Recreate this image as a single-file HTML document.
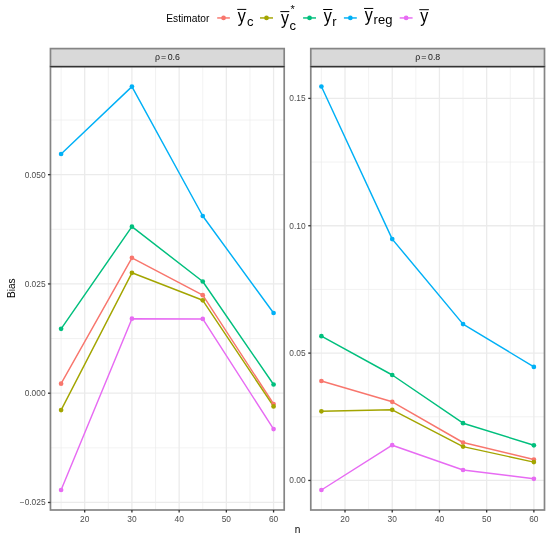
<!DOCTYPE html>
<html><head><meta charset="utf-8"><style>
html,body{margin:0;padding:0;background:#fff;}
svg{display:block;will-change:transform;}
text{font-family:"Liberation Sans",sans-serif;}
.ax{font-size:8.4px;fill:#4D4D4D;}
.st{font-size:8.8px;fill:#1A1A1A;}
.ti{font-size:10.08px;fill:#000;}
.lg{fill:#000;}
</style></head><body>
<svg width="550" height="539" viewBox="0 0 550 539">
<rect x="0" y="0" width="550" height="539" fill="#fff"/>
<rect x="50.47" y="66.5" width="233.73" height="443.50" fill="#fff"/>
<line x1="50.47" x2="284.2" y1="447.83" y2="447.83" stroke="#EBEBEB" stroke-width="0.65"/>
<line x1="50.47" x2="284.2" y1="338.56" y2="338.56" stroke="#EBEBEB" stroke-width="0.65"/>
<line x1="50.47" x2="284.2" y1="229.30" y2="229.30" stroke="#EBEBEB" stroke-width="0.65"/>
<line x1="50.47" x2="284.2" y1="120.02" y2="120.02" stroke="#EBEBEB" stroke-width="0.65"/>
<line x1="61.09" x2="61.09" y1="66.5" y2="510.0" stroke="#EBEBEB" stroke-width="0.65"/>
<line x1="108.31" x2="108.31" y1="66.5" y2="510.0" stroke="#EBEBEB" stroke-width="0.65"/>
<line x1="155.53" x2="155.53" y1="66.5" y2="510.0" stroke="#EBEBEB" stroke-width="0.65"/>
<line x1="202.75" x2="202.75" y1="66.5" y2="510.0" stroke="#EBEBEB" stroke-width="0.65"/>
<line x1="249.97" x2="249.97" y1="66.5" y2="510.0" stroke="#EBEBEB" stroke-width="0.65"/>
<line x1="50.47" x2="284.2" y1="502.47" y2="502.47" stroke="#EBEBEB" stroke-width="1.3"/>
<line x1="50.47" x2="284.2" y1="393.20" y2="393.20" stroke="#EBEBEB" stroke-width="1.3"/>
<line x1="50.47" x2="284.2" y1="283.93" y2="283.93" stroke="#EBEBEB" stroke-width="1.3"/>
<line x1="50.47" x2="284.2" y1="174.66" y2="174.66" stroke="#EBEBEB" stroke-width="1.3"/>
<line x1="84.70" x2="84.70" y1="66.5" y2="510.0" stroke="#EBEBEB" stroke-width="1.3"/>
<line x1="131.92" x2="131.92" y1="66.5" y2="510.0" stroke="#EBEBEB" stroke-width="1.3"/>
<line x1="179.14" x2="179.14" y1="66.5" y2="510.0" stroke="#EBEBEB" stroke-width="1.3"/>
<line x1="226.36" x2="226.36" y1="66.5" y2="510.0" stroke="#EBEBEB" stroke-width="1.3"/>
<line x1="273.58" x2="273.58" y1="66.5" y2="510.0" stroke="#EBEBEB" stroke-width="1.3"/>
<polyline points="61.09,383.70 131.92,257.80 202.75,295.20 273.58,404.00" fill="none" stroke="#F8766D" stroke-width="1.45" stroke-linejoin="round" stroke-linecap="butt"/>
<polyline points="61.09,410.10 131.92,272.80 202.75,300.30 273.58,406.40" fill="none" stroke="#A3A500" stroke-width="1.45" stroke-linejoin="round" stroke-linecap="butt"/>
<polyline points="61.09,328.80 131.92,226.65 202.75,281.50 273.58,384.50" fill="none" stroke="#00BF7D" stroke-width="1.45" stroke-linejoin="round" stroke-linecap="butt"/>
<polyline points="61.09,154.00 131.92,86.60 202.75,216.00 273.58,313.00" fill="none" stroke="#00B0F6" stroke-width="1.45" stroke-linejoin="round" stroke-linecap="butt"/>
<polyline points="61.09,490.00 131.92,318.70 202.75,318.90 273.58,429.10" fill="none" stroke="#E76BF3" stroke-width="1.45" stroke-linejoin="round" stroke-linecap="butt"/>
<circle cx="61.09" cy="383.70" r="2.35" fill="#F8766D"/>
<circle cx="131.92" cy="257.80" r="2.35" fill="#F8766D"/>
<circle cx="202.75" cy="295.20" r="2.35" fill="#F8766D"/>
<circle cx="273.58" cy="404.00" r="2.35" fill="#F8766D"/>
<circle cx="61.09" cy="410.10" r="2.35" fill="#A3A500"/>
<circle cx="131.92" cy="272.80" r="2.35" fill="#A3A500"/>
<circle cx="202.75" cy="300.30" r="2.35" fill="#A3A500"/>
<circle cx="273.58" cy="406.40" r="2.35" fill="#A3A500"/>
<circle cx="61.09" cy="328.80" r="2.35" fill="#00BF7D"/>
<circle cx="131.92" cy="226.65" r="2.35" fill="#00BF7D"/>
<circle cx="202.75" cy="281.50" r="2.35" fill="#00BF7D"/>
<circle cx="273.58" cy="384.50" r="2.35" fill="#00BF7D"/>
<circle cx="61.09" cy="154.00" r="2.35" fill="#00B0F6"/>
<circle cx="131.92" cy="86.60" r="2.35" fill="#00B0F6"/>
<circle cx="202.75" cy="216.00" r="2.35" fill="#00B0F6"/>
<circle cx="273.58" cy="313.00" r="2.35" fill="#00B0F6"/>
<circle cx="61.09" cy="490.00" r="2.35" fill="#E76BF3"/>
<circle cx="131.92" cy="318.70" r="2.35" fill="#E76BF3"/>
<circle cx="202.75" cy="318.90" r="2.35" fill="#E76BF3"/>
<circle cx="273.58" cy="429.10" r="2.35" fill="#E76BF3"/>
<rect x="50.47" y="66.5" width="233.73" height="443.50" fill="none" stroke="#858585" stroke-width="1.7"/>
<line x1="50.17" x2="284.50" y1="66.5" y2="66.5" stroke="#333333" stroke-width="1.3"/>
<line x1="47.95" x2="50.47" y1="502.47" y2="502.47" stroke="#333333" stroke-width="1.3"/>
<text x="45.6" y="505.47" text-anchor="end" class="ax">−0.025</text>
<line x1="47.95" x2="50.47" y1="393.20" y2="393.20" stroke="#333333" stroke-width="1.3"/>
<text x="45.6" y="396.20" text-anchor="end" class="ax">0.000</text>
<line x1="47.95" x2="50.47" y1="283.93" y2="283.93" stroke="#333333" stroke-width="1.3"/>
<text x="45.6" y="286.93" text-anchor="end" class="ax">0.025</text>
<line x1="47.95" x2="50.47" y1="174.66" y2="174.66" stroke="#333333" stroke-width="1.3"/>
<text x="45.6" y="177.66" text-anchor="end" class="ax">0.050</text>
<line x1="84.70" x2="84.70" y1="510.0" y2="512.52" stroke="#333333" stroke-width="1.3"/>
<text x="84.70" y="522.20" text-anchor="middle" class="ax">20</text>
<line x1="131.92" x2="131.92" y1="510.0" y2="512.52" stroke="#333333" stroke-width="1.3"/>
<text x="131.92" y="522.20" text-anchor="middle" class="ax">30</text>
<line x1="179.14" x2="179.14" y1="510.0" y2="512.52" stroke="#333333" stroke-width="1.3"/>
<text x="179.14" y="522.20" text-anchor="middle" class="ax">40</text>
<line x1="226.36" x2="226.36" y1="510.0" y2="512.52" stroke="#333333" stroke-width="1.3"/>
<text x="226.36" y="522.20" text-anchor="middle" class="ax">50</text>
<line x1="273.58" x2="273.58" y1="510.0" y2="512.52" stroke="#333333" stroke-width="1.3"/>
<text x="273.58" y="522.20" text-anchor="middle" class="ax">60</text>
<rect x="310.78" y="66.5" width="233.72" height="443.50" fill="#fff"/>
<line x1="310.78" x2="544.5" y1="416.77" y2="416.77" stroke="#EBEBEB" stroke-width="0.65"/>
<line x1="310.78" x2="544.5" y1="289.43" y2="289.43" stroke="#EBEBEB" stroke-width="0.65"/>
<line x1="310.78" x2="544.5" y1="162.07" y2="162.07" stroke="#EBEBEB" stroke-width="0.65"/>
<line x1="321.40" x2="321.40" y1="66.5" y2="510.0" stroke="#EBEBEB" stroke-width="0.65"/>
<line x1="368.62" x2="368.62" y1="66.5" y2="510.0" stroke="#EBEBEB" stroke-width="0.65"/>
<line x1="415.84" x2="415.84" y1="66.5" y2="510.0" stroke="#EBEBEB" stroke-width="0.65"/>
<line x1="463.05" x2="463.05" y1="66.5" y2="510.0" stroke="#EBEBEB" stroke-width="0.65"/>
<line x1="510.27" x2="510.27" y1="66.5" y2="510.0" stroke="#EBEBEB" stroke-width="0.65"/>
<line x1="310.78" x2="544.5" y1="480.45" y2="480.45" stroke="#EBEBEB" stroke-width="1.3"/>
<line x1="310.78" x2="544.5" y1="353.10" y2="353.10" stroke="#EBEBEB" stroke-width="1.3"/>
<line x1="310.78" x2="544.5" y1="225.75" y2="225.75" stroke="#EBEBEB" stroke-width="1.3"/>
<line x1="310.78" x2="544.5" y1="98.40" y2="98.40" stroke="#EBEBEB" stroke-width="1.3"/>
<line x1="345.01" x2="345.01" y1="66.5" y2="510.0" stroke="#EBEBEB" stroke-width="1.3"/>
<line x1="392.23" x2="392.23" y1="66.5" y2="510.0" stroke="#EBEBEB" stroke-width="1.3"/>
<line x1="439.44" x2="439.44" y1="66.5" y2="510.0" stroke="#EBEBEB" stroke-width="1.3"/>
<line x1="486.66" x2="486.66" y1="66.5" y2="510.0" stroke="#EBEBEB" stroke-width="1.3"/>
<line x1="533.88" x2="533.88" y1="66.5" y2="510.0" stroke="#EBEBEB" stroke-width="1.3"/>
<polyline points="321.40,381.00 392.23,401.80 463.05,442.50 533.88,459.50" fill="none" stroke="#F8766D" stroke-width="1.45" stroke-linejoin="round" stroke-linecap="butt"/>
<polyline points="321.40,411.30 392.23,409.80 463.05,446.60 533.88,462.10" fill="none" stroke="#A3A500" stroke-width="1.45" stroke-linejoin="round" stroke-linecap="butt"/>
<polyline points="321.40,336.20 392.23,375.00 463.05,423.20 533.88,445.30" fill="none" stroke="#00BF7D" stroke-width="1.45" stroke-linejoin="round" stroke-linecap="butt"/>
<polyline points="321.40,86.50 392.23,239.10 463.05,324.10 533.88,366.90" fill="none" stroke="#00B0F6" stroke-width="1.45" stroke-linejoin="round" stroke-linecap="butt"/>
<polyline points="321.40,490.00 392.23,445.20 463.05,470.00 533.88,478.80" fill="none" stroke="#E76BF3" stroke-width="1.45" stroke-linejoin="round" stroke-linecap="butt"/>
<circle cx="321.40" cy="381.00" r="2.35" fill="#F8766D"/>
<circle cx="392.23" cy="401.80" r="2.35" fill="#F8766D"/>
<circle cx="463.05" cy="442.50" r="2.35" fill="#F8766D"/>
<circle cx="533.88" cy="459.50" r="2.35" fill="#F8766D"/>
<circle cx="321.40" cy="411.30" r="2.35" fill="#A3A500"/>
<circle cx="392.23" cy="409.80" r="2.35" fill="#A3A500"/>
<circle cx="463.05" cy="446.60" r="2.35" fill="#A3A500"/>
<circle cx="533.88" cy="462.10" r="2.35" fill="#A3A500"/>
<circle cx="321.40" cy="336.20" r="2.35" fill="#00BF7D"/>
<circle cx="392.23" cy="375.00" r="2.35" fill="#00BF7D"/>
<circle cx="463.05" cy="423.20" r="2.35" fill="#00BF7D"/>
<circle cx="533.88" cy="445.30" r="2.35" fill="#00BF7D"/>
<circle cx="321.40" cy="86.50" r="2.35" fill="#00B0F6"/>
<circle cx="392.23" cy="239.10" r="2.35" fill="#00B0F6"/>
<circle cx="463.05" cy="324.10" r="2.35" fill="#00B0F6"/>
<circle cx="533.88" cy="366.90" r="2.35" fill="#00B0F6"/>
<circle cx="321.40" cy="490.00" r="2.35" fill="#E76BF3"/>
<circle cx="392.23" cy="445.20" r="2.35" fill="#E76BF3"/>
<circle cx="463.05" cy="470.00" r="2.35" fill="#E76BF3"/>
<circle cx="533.88" cy="478.80" r="2.35" fill="#E76BF3"/>
<rect x="310.78" y="66.5" width="233.72" height="443.50" fill="none" stroke="#858585" stroke-width="1.7"/>
<line x1="310.48" x2="544.80" y1="66.5" y2="66.5" stroke="#333333" stroke-width="1.3"/>
<line x1="308.26" x2="310.78" y1="480.45" y2="480.45" stroke="#333333" stroke-width="1.3"/>
<text x="305.6" y="483.35" text-anchor="end" class="ax">0.00</text>
<line x1="308.26" x2="310.78" y1="353.10" y2="353.10" stroke="#333333" stroke-width="1.3"/>
<text x="305.6" y="356.00" text-anchor="end" class="ax">0.05</text>
<line x1="308.26" x2="310.78" y1="225.75" y2="225.75" stroke="#333333" stroke-width="1.3"/>
<text x="305.6" y="228.65" text-anchor="end" class="ax">0.10</text>
<line x1="308.26" x2="310.78" y1="98.40" y2="98.40" stroke="#333333" stroke-width="1.3"/>
<text x="305.6" y="101.30" text-anchor="end" class="ax">0.15</text>
<line x1="345.01" x2="345.01" y1="510.0" y2="512.52" stroke="#333333" stroke-width="1.3"/>
<text x="345.01" y="522.20" text-anchor="middle" class="ax">20</text>
<line x1="392.23" x2="392.23" y1="510.0" y2="512.52" stroke="#333333" stroke-width="1.3"/>
<text x="392.23" y="522.20" text-anchor="middle" class="ax">30</text>
<line x1="439.44" x2="439.44" y1="510.0" y2="512.52" stroke="#333333" stroke-width="1.3"/>
<text x="439.44" y="522.20" text-anchor="middle" class="ax">40</text>
<line x1="486.66" x2="486.66" y1="510.0" y2="512.52" stroke="#333333" stroke-width="1.3"/>
<text x="486.66" y="522.20" text-anchor="middle" class="ax">50</text>
<line x1="533.88" x2="533.88" y1="510.0" y2="512.52" stroke="#333333" stroke-width="1.3"/>
<text x="533.88" y="522.20" text-anchor="middle" class="ax">60</text>
<rect x="50.47" y="48.6" width="233.73" height="17.90" fill="#D9D9D9" stroke="#858585" stroke-width="1.7"/>
<line x1="50.17" x2="284.50" y1="66.5" y2="66.5" stroke="#333333" stroke-width="1.15"/>
<text x="154.88" y="59.6" class="st">ρ</text>
<text x="160.88" y="59.6" class="st">=</text>
<text x="167.68" y="59.6" class="st">0.6</text>
<rect x="310.78" y="48.6" width="233.72" height="17.90" fill="#D9D9D9" stroke="#858585" stroke-width="1.7"/>
<line x1="310.48" x2="544.80" y1="66.5" y2="66.5" stroke="#333333" stroke-width="1.15"/>
<text x="415.19" y="59.6" class="st">ρ</text>
<text x="421.19" y="59.6" class="st">=</text>
<text x="427.99" y="59.6" class="st">0.8</text>
<text x="297.5" y="532.8" text-anchor="middle" class="ti">n</text>
<text transform="translate(14.6,288.25) rotate(-90)" text-anchor="middle" class="ti">Bias</text>
<text x="166.3" y="21.6" class="ti" style="font-size:10.2px">Estimator</text>
<line x1="217.2" x2="229.9" y1="17.95" y2="17.95" stroke="#F8766D" stroke-width="1.45"/>
<circle cx="223.55" cy="17.95" r="2.35" fill="#F8766D"/>
<line x1="260.0" x2="273.0" y1="17.95" y2="17.95" stroke="#A3A500" stroke-width="1.45"/>
<circle cx="266.50" cy="17.95" r="2.35" fill="#A3A500"/>
<line x1="303.1" x2="316.0" y1="17.95" y2="17.95" stroke="#00BF7D" stroke-width="1.45"/>
<circle cx="309.55" cy="17.95" r="2.35" fill="#00BF7D"/>
<line x1="343.9" x2="356.8" y1="17.95" y2="17.95" stroke="#00B0F6" stroke-width="1.45"/>
<circle cx="350.35" cy="17.95" r="2.35" fill="#00B0F6"/>
<line x1="399.7" x2="412.6" y1="17.95" y2="17.95" stroke="#E76BF3" stroke-width="1.45"/>
<circle cx="406.15" cy="17.95" r="2.35" fill="#E76BF3"/>
<text transform="translate(237.80,21.70) scale(0.88,1)" class="lg" style="font-size:18.2px">y</text>
<line x1="237.2" x2="246.3" y1="9.40" y2="9.40" stroke="#000" stroke-width="1.0"/>
<text x="246.90" y="25.60" class="lg" style="font-size:13.0px">c</text>
<text transform="translate(280.95,23.90) scale(0.88,1)" class="lg" style="font-size:18.2px">y</text>
<line x1="280.3" x2="289.3" y1="11.60" y2="11.60" stroke="#000" stroke-width="1.0"/>
<text x="289.45" y="30.30" class="lg" style="font-size:13.0px">c</text>
<text x="290.40" y="13.30" class="lg" style="font-size:11px">*</text>
<text transform="translate(323.75,21.80) scale(0.88,1)" class="lg" style="font-size:18.2px">y</text>
<line x1="323.15" x2="332.4" y1="9.50" y2="9.50" stroke="#000" stroke-width="1.0"/>
<text x="332.30" y="25.50" class="lg" style="font-size:13.0px">r</text>
<text transform="translate(364.75,20.75) scale(0.88,1)" class="lg" style="font-size:18.2px">y</text>
<line x1="364.0" x2="373.3" y1="8.45" y2="8.45" stroke="#000" stroke-width="1.0"/>
<text x="373.60" y="24.10" class="lg" style="font-size:13px">reg</text>
<text transform="translate(420.15,22.00) scale(0.88,1)" class="lg" style="font-size:18.2px">y</text>
<line x1="419.3" x2="428.9" y1="9.70" y2="9.70" stroke="#000" stroke-width="1.0"/>
</svg>
</body></html>
